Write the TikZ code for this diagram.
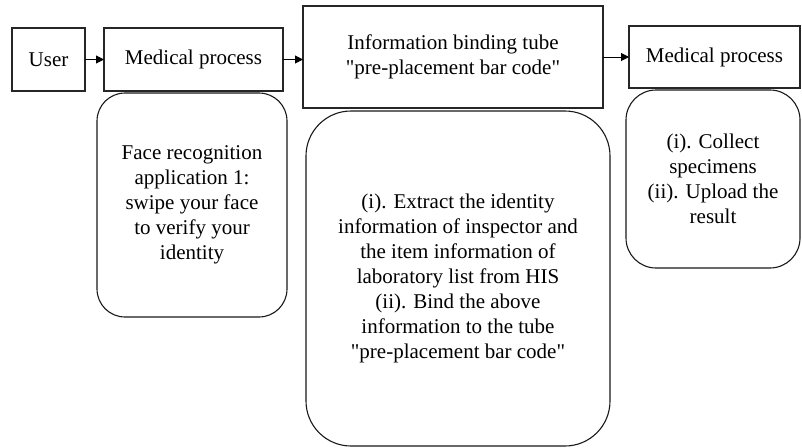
\documentclass[tikz,border=0pt]{standalone}
\usepackage{fontspec}
\setmainfont[Ligatures=TeXOff]{Liberation Serif}
\usetikzlibrary{arrows.meta}

\begin{document}
\begin{tikzpicture}[x=1pt,y=-1pt,
  every node/.style={font=\fontsize{21}{25}\selectfont, align=center,
    inner sep=0pt, outer sep=0pt},
  stepbox/.style={draw=black!85, line width=1.2pt},
  notebox/.style={draw=black!90, line width=1.1pt, rounded corners=#1},
  flow/.style={line width=1pt, -{Triangle[length=8pt,width=8pt]}}]

\useasboundingbox (0,0) rectangle (802,447);

% top row of process steps
\node[stepbox, minimum width=73pt, minimum height=63pt] (user) at (48.5,59.5) {User};
\node[stepbox, minimum width=179pt, minimum height=63pt] (med1) at (193.5,59.5) {Medical process};
\node[stepbox, minimum width=300pt, minimum height=102pt] (info) at (453,57)
  {Information binding tube\\"pre-placement bar code"};
\node[stepbox, minimum width=171pt, minimum height=62pt] (med2) at (714.5,57) {Medical process};

% rounded notes under each step
\node[notebox=28pt, minimum width=190pt, minimum height=224pt] (face) at (192,205)
  {Face recognition\\application 1:\\swipe your face\\to verify your\\identity};
\node[notebox=45pt, minimum width=304pt, minimum height=335pt] (bind) at (458,278.5)
  {(i). Extract the identity\\information of inspector and\\the item information of\\laboratory list from HIS\\(ii). Bind the above\\information to the tube\\"pre-placement bar code"};
\node[notebox=30pt, minimum width=174pt, minimum height=178pt] (collect) at (713,179)
  {(i). Collect\\specimens\\(ii). Upload the\\result};

% connectors
\draw[flow] (user.east) -- (med1.west);
\draw[flow] (med1.east) -- (med1.east -| info.west);
\draw[flow] (info.east) -- (med2.west);
\end{tikzpicture}
\end{document}
